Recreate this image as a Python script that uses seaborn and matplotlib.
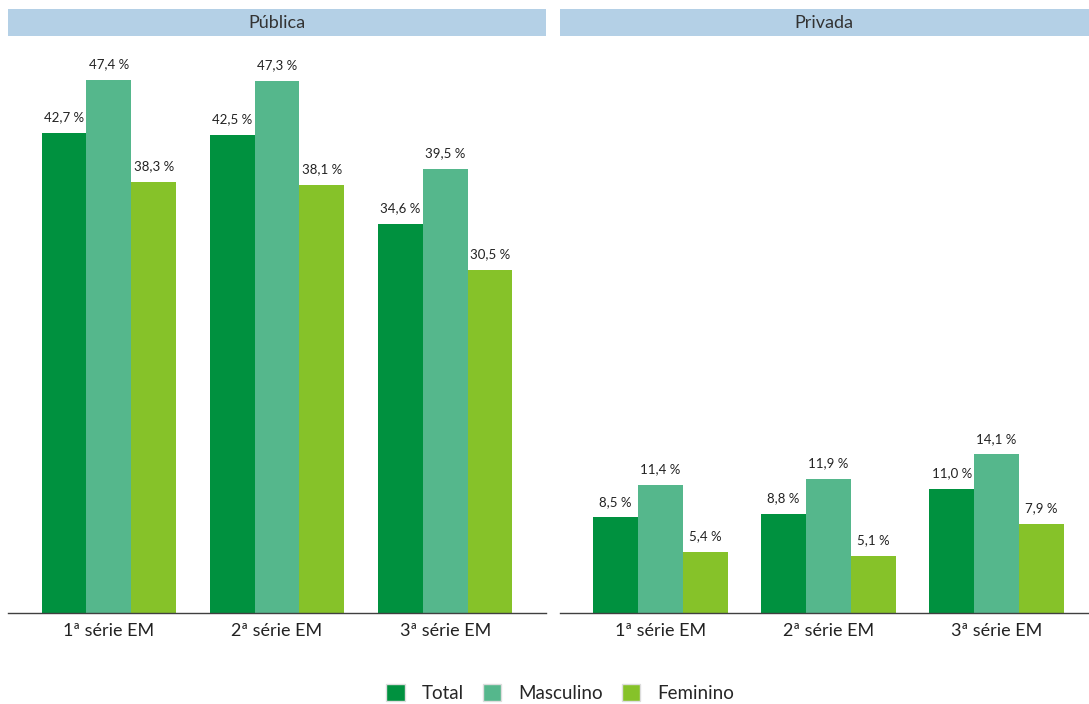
import pandas as pd
import numpy as np
import seaborn as sns
import matplotlib.pyplot as plt
from matplotlib.patches import Patch, Rectangle

series = ['1ª série EM', '2ª série EM', '3ª série EM']
groups = ['Total', 'Masculino', 'Feminino']
publica = {'Total': [42.7, 42.5, 34.6],
           'Masculino': [47.4, 47.3, 39.5],
           'Feminino': [38.3, 38.1, 30.5]}
privada = {'Total': [8.5, 8.8, 11.0],
           'Masculino': [11.4, 11.9, 14.1],
           'Feminino': [5.4, 5.1, 7.9]}
panels = ['Pública', 'Privada']
colors = ['#00913F', '#55B78C', '#86C229']

sns.set_style('white')
plt.rcParams['font.family'] = ['Lato', 'DejaVu Sans']

def long_df(d):
    rows = []
    for g in groups:
        for s, v in zip(series, d[g]):
            rows.append({'serie': s, 'grupo': g, 'valor': v})
    return pd.DataFrame(rows)

fig = plt.figure(figsize=(10.89, 7.04), dpi=100)
W, H = 1089, 704
lefts = [8, 559.5]
axw = 538
bottom = 613
top = 38

for name, d, x0 in zip(panels, [publica, privada], lefts):
    ax = fig.add_axes([x0 / W, (H - bottom) / H, axw / W, (bottom - top) / H])
    df = long_df(d)
    sns.barplot(data=df, x='serie', y='valor', hue='grupo', order=series,
                hue_order=groups, palette=colors, width=0.8, saturation=1,
                linewidth=0, ax=ax, legend=False)
    for c in ax.containers:
        labs = [f'{v:.1f} %'.replace('.', ',') for v in c.datavalues]
        ax.bar_label(c, labels=labs, padding=7, fontsize=9.5, color='#222222')
    ax.set_xlim(-0.6, 2.6)
    ax.set_ylim(0, (bottom - top) / 11.245)
    ax.set_xlabel('')
    ax.set_ylabel('')
    ax.set_yticks([])
    for sp in ['top', 'left', 'right']:
        ax.spines[sp].set_visible(False)
    ax.spines['bottom'].set_color('#404040')
    ax.spines['bottom'].set_linewidth(1.0)
    ax.tick_params(axis='x', length=0, labelsize=13, pad=7, labelcolor='#222222')
    # strip header
    sx = x0
    sw = min(axw, W - x0) if name == 'Privada' else axw
    fig.patches.append(Rectangle((sx / W, (H - 36) / H), sw / W, 27 / H,
                                 transform=fig.transFigure, facecolor='#B4D0E6',
                                 edgecolor='none', zorder=0))
    fig.text((sx + sw / 2) / W, (H - 22.5) / H, name, ha='center', va='center',
             fontsize=13, color='#333333')

handles = [Patch(facecolor=c, edgecolor='#dddddd', label=g) for c, g in zip(colors, groups)]
fig.legend(handles=handles, loc='center', bbox_to_anchor=(560 / W, (H - 693) / H),
           ncol=3, frameon=False, fontsize=13.5, handlelength=1.0, handleheight=1.0,
           handletextpad=0.9, columnspacing=1.0)

fig.savefig('out.png', dpi=100)
